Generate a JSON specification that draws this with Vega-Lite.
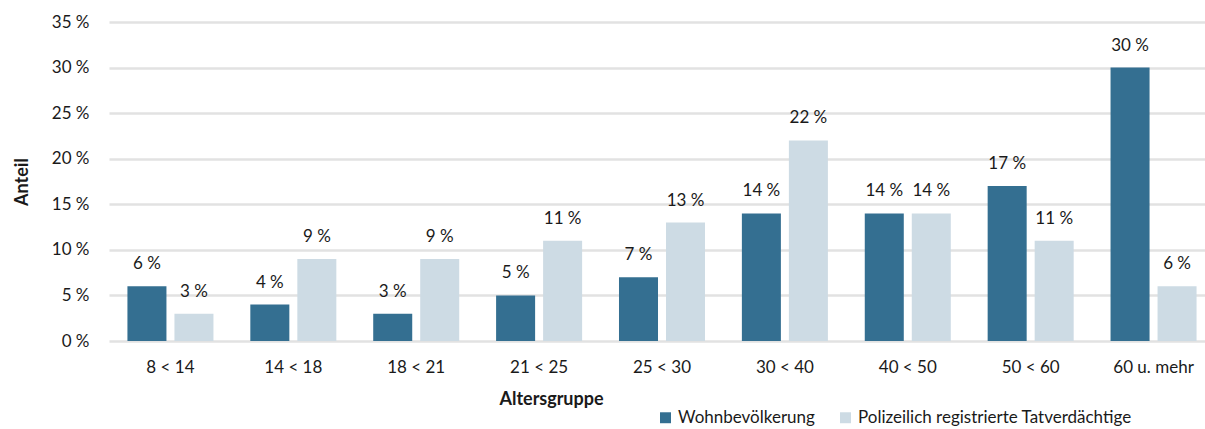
{
  "$schema": "https://vega.github.io/schema/vega-lite/v6.json",
  "width": 1106,
  "height": 319,
  "padding": {"left": 13, "top": 13, "right": 0, "bottom": 0},
  "autosize": {"type": "pad"},
  "config": {
    "font": "Lato",
    "view": {"stroke": null},
    "axis": {"labelFont": "Lato", "titleFont": "Lato", "labelColor": "#1a1a1a", "titleColor": "#1a1a1a"}
  },
  "data": {
    "values": [
      {"Altersgruppe": "8 < 14", "Gruppe": "Wohnbevölkerung", "Anteil": 6},
      {"Altersgruppe": "8 < 14", "Gruppe": "Polizeilich registrierte Tatverdächtige", "Anteil": 3},
      {"Altersgruppe": "14 < 18", "Gruppe": "Wohnbevölkerung", "Anteil": 4},
      {"Altersgruppe": "14 < 18", "Gruppe": "Polizeilich registrierte Tatverdächtige", "Anteil": 9},
      {"Altersgruppe": "18 < 21", "Gruppe": "Wohnbevölkerung", "Anteil": 3},
      {"Altersgruppe": "18 < 21", "Gruppe": "Polizeilich registrierte Tatverdächtige", "Anteil": 9},
      {"Altersgruppe": "21 < 25", "Gruppe": "Wohnbevölkerung", "Anteil": 5},
      {"Altersgruppe": "21 < 25", "Gruppe": "Polizeilich registrierte Tatverdächtige", "Anteil": 11},
      {"Altersgruppe": "25 < 30", "Gruppe": "Wohnbevölkerung", "Anteil": 7},
      {"Altersgruppe": "25 < 30", "Gruppe": "Polizeilich registrierte Tatverdächtige", "Anteil": 13},
      {"Altersgruppe": "30 < 40", "Gruppe": "Wohnbevölkerung", "Anteil": 14},
      {"Altersgruppe": "30 < 40", "Gruppe": "Polizeilich registrierte Tatverdächtige", "Anteil": 22},
      {"Altersgruppe": "40 < 50", "Gruppe": "Wohnbevölkerung", "Anteil": 14},
      {"Altersgruppe": "40 < 50", "Gruppe": "Polizeilich registrierte Tatverdächtige", "Anteil": 14},
      {"Altersgruppe": "50 < 60", "Gruppe": "Wohnbevölkerung", "Anteil": 17},
      {"Altersgruppe": "50 < 60", "Gruppe": "Polizeilich registrierte Tatverdächtige", "Anteil": 11},
      {"Altersgruppe": "60 u. mehr", "Gruppe": "Wohnbevölkerung", "Anteil": 30},
      {"Altersgruppe": "60 u. mehr", "Gruppe": "Polizeilich registrierte Tatverdächtige", "Anteil": 6}
    ]
  },
  "encoding": {
    "x": {
      "field": "Altersgruppe", "type": "nominal", "sort": null,
      "scale": {"paddingInner": 0.3, "paddingOuter": 0.15},
      "axis": {"labelAngle": 0, "labelFontSize": 17, "labelPadding": 18, "ticks": false, "domain": false,
               "title": "Altersgruppe", "titleFontSize": 18, "titleFontWeight": "bold", "titlePadding": 15,
               "titleX": 442, "titleAnchor": "middle"}
    },
    "xOffset": {
      "field": "Gruppe", "type": "nominal",
      "sort": ["Wohnbevölkerung", "Polizeilich registrierte Tatverdächtige"],
      "scale": {"paddingInner": 0.17, "paddingOuter": 0}
    },
    "y": {
      "field": "Anteil", "type": "quantitative",
      "scale": {"domain": [0, 35], "nice": false},
      "axis": {"values": [0, 5, 10, 15, 20, 25, 30, 35], "labelExpr": "datum.value + ' %'", "labelFontSize": 17,
               "labelPadding": 20, "ticks": false, "domain": false, "gridColor": "#e2e2e2", "gridWidth": 2.5,
               "title": "Anteil", "titleFontSize": 18, "titleFontWeight": "bold", "titlePadding": 20}
    }
  },
  "layer": [
    {
      "mark": {"type": "bar"},
      "encoding": {
        "color": {
          "field": "Gruppe", "type": "nominal",
          "sort": ["Wohnbevölkerung", "Polizeilich registrierte Tatverdächtige"],
          "scale": {"domain": ["Wohnbevölkerung", "Polizeilich registrierte Tatverdächtige"], "range": ["#346f91", "#cddbe4"]},
          "legend": {"title": null, "orient": "none", "direction": "horizontal", "legendX": 548, "legendY": 387,
                     "symbolType": "square", "symbolSize": 120, "symbolStrokeWidth": 0, "labelFontSize": 17,
                     "labelColor": "#1a1a1a", "labelFont": "Lato", "columnPadding": 22, "labelOffset": 4, "labelLimit": 400}
        }
      }
    },
    {
      "mark": {"type": "text", "baseline": "bottom", "dy": -13, "fontSize": 17, "color": "#1a1a1a",
               "text": {"expr": "datum.Anteil + ' %'"}}
    }
  ]
}
